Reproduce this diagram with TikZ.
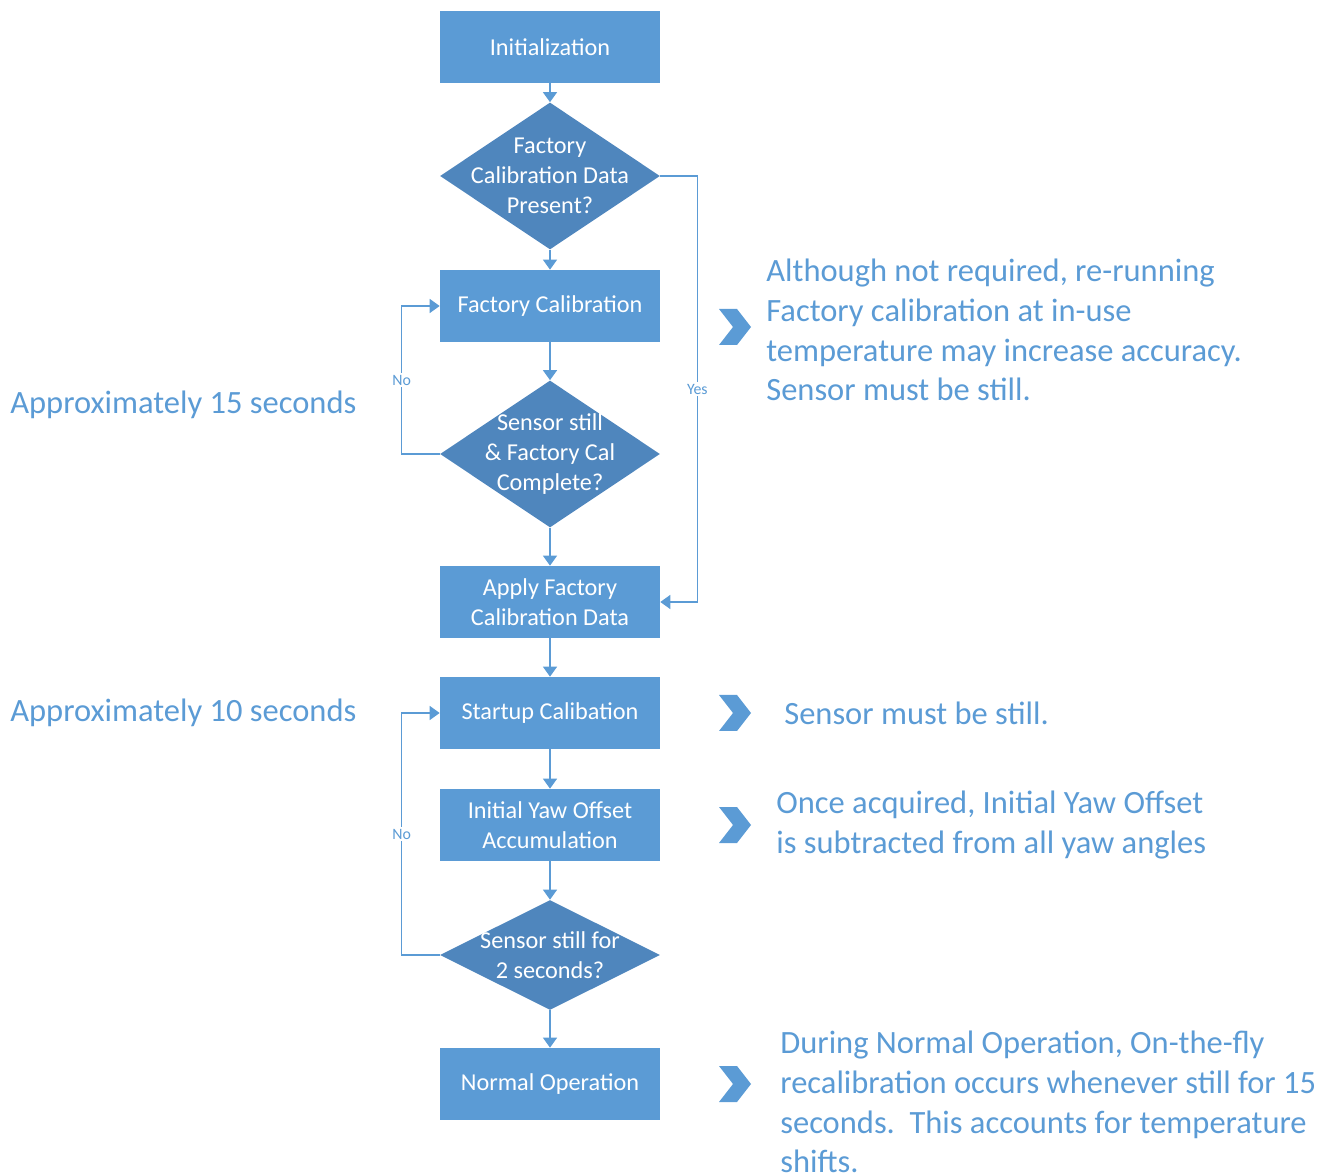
\documentclass[tikz,border=0pt]{standalone}
\usepackage{fontspec}
\setmainfont{Carlito}
\usetikzlibrary{shapes.geometric, arrows.meta}

\definecolor{boxblue}{HTML}{5B9BD5}
\definecolor{decblue}{HTML}{4F86BD}
\definecolor{lineblue}{HTML}{5B9BD5}

\tikzset{
	process/.style={rectangle, fill=boxblue, text=white, minimum width=4.4cm, minimum height=1.44cm, align=center, inner sep=0pt, font=\fontsize{13.8}{17}\selectfont},
	decision/.style={diamond, fill=decblue, minimum width=4.4cm, minimum height=2.94cm, inner sep=0pt},
	qtext/.style={text=white, align=center, inner sep=0pt, font=\fontsize{13.8}{17}\selectfont},
	flow/.style={-{Triangle[width=2.8mm,length=2mm]}, draw=lineblue, line width=0.8pt},
	branch/.style={text=lineblue, fill=white, inner sep=1pt, font=\fontsize{9}{10}\selectfont},
	note/.style={text=lineblue, align=left, anchor=west, inner sep=0pt, font=\fontsize{18.5}{22.7}\selectfont},
}

\begin{document}
\begin{tikzpicture}[x=0.02cm, y=-0.02cm]
	\useasboundingbox (0,0) rectangle (1343,1175);

	% flow chart
	\node[process] (init) at (550,47) {Initialization};
	\node[decision, label={[qtext]center:{Factory\\Calibration Data\\Present?}}] (qdata) at (550,176) {};
	\node[process] (fcal) at (550,306) {Factory Calibration};
	\node[decision, label={[qtext]center:{Sensor still\\\& Factory Cal\\Complete?}}] (qstill) at (550,454) {};
	\node[process] (apply) at (550,602) {Apply Factory\\Calibration Data};
	\node[process] (scal) at (550,713) {Startup Calibation};
	\node[process] (yaw) at (550,825) {Initial Yaw Offset\\Accumulation};
	\node[decision, minimum height=2.2cm, label={[qtext]center:{Sensor still for\\2 seconds?}}] (qtwo) at (550,955) {};
	\node[process] (normal) at (550,1084) {Normal Operation};

	\draw[flow] (init) -- (qdata);
	\draw[flow] (qdata) -- (fcal);
	\draw[flow] (fcal) -- (qstill);
	\draw[flow] (qstill) -- (apply);
	\draw[flow] (apply) -- (scal);
	\draw[flow] (scal) -- (yaw);
	\draw[flow] (yaw) -- (qtwo);
	\draw[flow] (qtwo) -- (normal);

	% branches
	\draw[flow] (qdata.east) -- ++(37,0) |- node[branch, pos=0.25] {Yes} (apply.east);
	\draw[flow] (qstill.west) -- ++(-38,0) |- node[branch, pos=0.25] {No} (fcal.west);
	\draw[flow] (qtwo.west) -- ++(-38,0) |- node[branch, pos=0.25] {No} (scal.west);

	% chevrons
	\foreach \y in {327, 713, 825, 1084}
		\fill[boxblue] (735,\y) ++(-16,-18) -- ++(18,0) -- ++(14,18) -- ++(-14,18) -- ++(-18,0) -- ++(14,-18) -- cycle;

	% notes
	\node[note] (time15) at (10,405) {Approximately 15 seconds};
	\node[note] (time10) at (10,713) {Approximately 10 seconds};
	\node[note] (refac) at (766,330) {Although not required, re-running\\Factory calibration at in-use\\temperature may increase accuracy.\\Sensor must be still.};
	\node[note] (still) at (784,713) {Sensor must be still.};
	\node[note] (offset) at (776,825) {Once acquired, Initial Yaw Offset\\is subtracted from all yaw angles};
	\node[note] (onfly) at (780,1102) {During Normal Operation, On-the-fly\\recalibration occurs whenever still for 15\\seconds.\ \ This accounts for temperature\\shifts.};
\end{tikzpicture}
\end{document}
